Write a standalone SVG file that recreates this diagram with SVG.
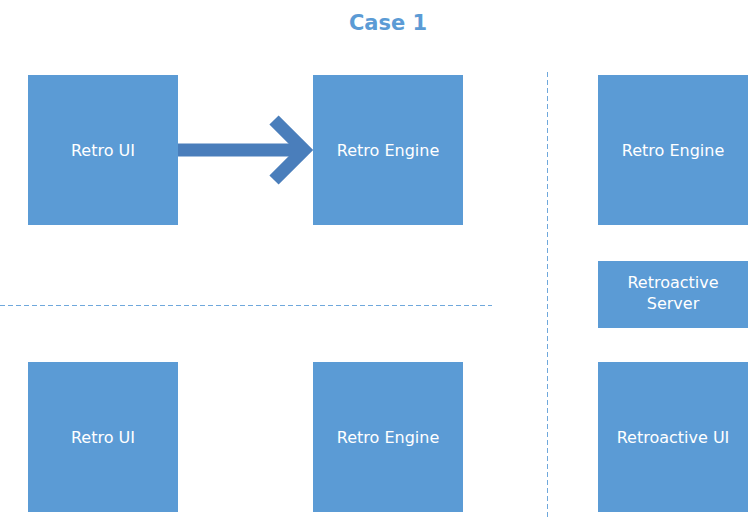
<svg xmlns="http://www.w3.org/2000/svg" width="755" height="521" viewBox="0 0 755 521">
<style>
.box{fill:#5B9BD5}
.lbl{fill:#fff;font-family:"DejaVu Sans",sans-serif;font-size:16px;text-anchor:middle}
.dash{stroke:#6FA8DC;stroke-width:1;stroke-dasharray:5,3;fill:none}
</style>
<rect width="755" height="521" fill="#fff"/>
<text x="388" y="30" fill="#5B9BD5" font-family="'DejaVu Sans',sans-serif" font-weight="bold" font-size="21" text-anchor="middle">Case 1</text>
<g id="connectors">
<line class="dash" x1="0" y1="305.5" x2="492" y2="305.5"/>
<line class="dash" x1="547.5" y1="72" x2="547.5" y2="517"/>
<g fill="none" stroke="#4A7EBB" stroke-width="13">
<line x1="178" y1="150" x2="304" y2="150"/>
<polyline points="274,120 304,150 274,180"/>
</g>
</g>
<g id="retro-ui-top"><rect class="box" x="28" y="75" width="150" height="150"/><text class="lbl" x="103" y="156">Retro UI</text></g>
<g id="retro-engine-top"><rect class="box" x="313" y="75" width="150" height="150"/><text class="lbl" x="388" y="156">Retro Engine</text></g>
<g id="retro-engine-right"><rect class="box" x="598" y="75" width="150" height="150"/><text class="lbl" x="673" y="156">Retro Engine</text></g>
<g id="retroactive-server"><rect class="box" x="598" y="261" width="150" height="67"/><text class="lbl" x="673" y="288">Retroactive</text><text class="lbl" x="673" y="309">Server</text></g>
<g id="retro-ui-bottom"><rect class="box" x="28" y="362" width="150" height="150"/><text class="lbl" x="103" y="443">Retro UI</text></g>
<g id="retro-engine-bottom"><rect class="box" x="313" y="362" width="150" height="150"/><text class="lbl" x="388" y="443">Retro Engine</text></g>
<g id="retroactive-ui"><rect class="box" x="598" y="362" width="150" height="150"/><text class="lbl" x="673" y="443">Retroactive UI</text></g>
</svg>
